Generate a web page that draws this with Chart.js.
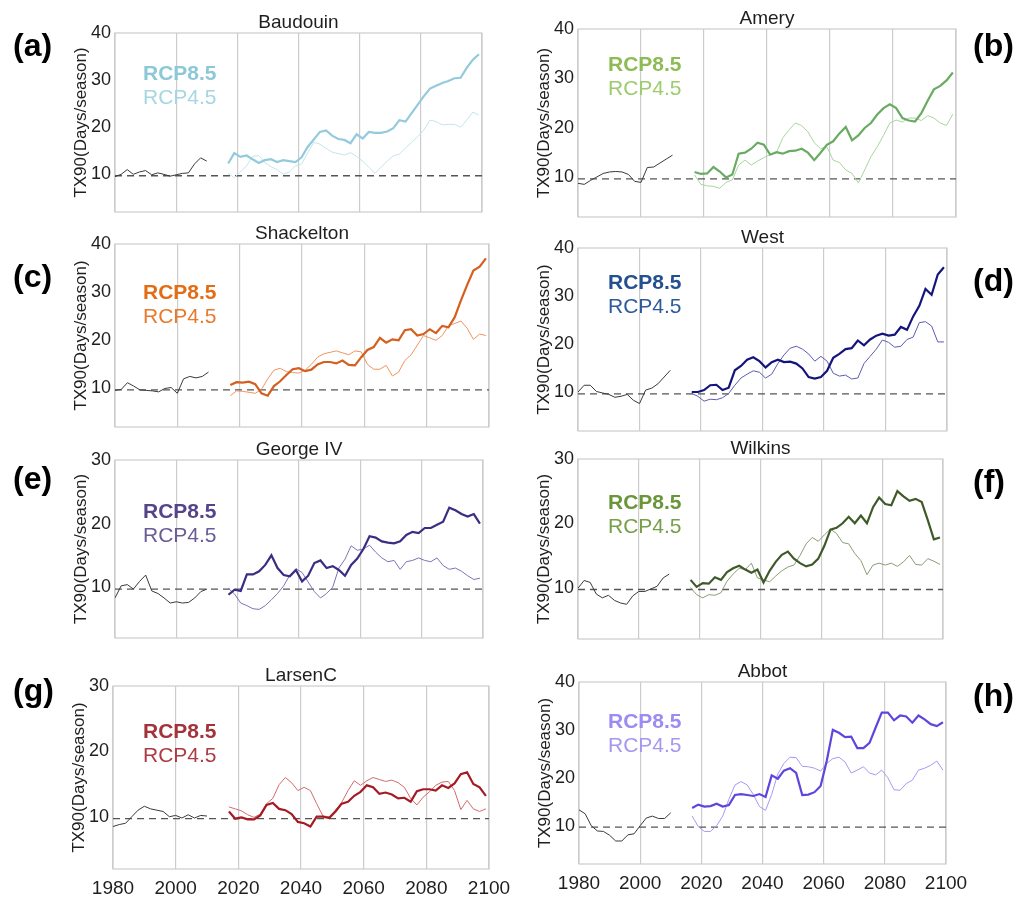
<!DOCTYPE html>
<html>
<head>
<meta charset="utf-8">
<title>TX90 ice shelves</title>
<script src="https://cdn.jsdelivr.net/npm/chart.js@4.4.1/dist/chart.umd.min.js"></script>
<style>
  html, body { margin: 0; padding: 0; background: #fff; }
  body { width: 1031px; height: 905px; position: relative; overflow: hidden; }
  canvas { position: absolute; }
</style>
</head>
<body>
<canvas id="pa"></canvas>
<canvas id="pc"></canvas>
<canvas id="pe"></canvas>
<canvas id="pg"></canvas>
<canvas id="pb"></canvas>
<canvas id="pd"></canvas>
<canvas id="pf"></canvas>
<canvas id="ph"></canvas>
<script>
// ===== DATOS =====
const histYears = [1980, 1982, 1984, 1986, 1988, 1990, 1992, 1994, 1996, 1998, 2000, 2002, 2004, 2006, 2008, 2010];
const rcpYears = [2017, 2019, 2021, 2023, 2025, 2027, 2029, 2031, 2033, 2035, 2037, 2039, 2041, 2043,
                  2045, 2047, 2049, 2051, 2053, 2055, 2057, 2059, 2061, 2063, 2065, 2067, 2069, 2071,
                  2073, 2075, 2077, 2079, 2081, 2083, 2085, 2087, 2089, 2091, 2093, 2095, 2097, 2099];
const xTicks = [1980, 2000, 2020, 2040, 2060, 2080, 2100];
const yTicks40 = [10, 20, 30, 40];
const yTicks30 = [10, 20, 30];
const scenarioNames = ['RCP8.5', 'RCP4.5'];
const regionNames = ['Baudouin', 'Amery', 'Shackelton', 'West', 'George IV', 'Wilkins', 'LarsenC', 'Abbot'];
const panelLetters = ['(a)', '(b)', '(c)', '(d)', '(e)', '(f)', '(g)', '(h)'];
const baselineValues = [9.7, 9.7, 9.7, 9.7, 9.7, 9.7, 9.7, 9.7];

const baudouinHist = [9.5, 10.0, 11.0, 10.0, 10.5, 10.8, 9.9, 10.3, 10.0, 9.6, 9.9, 10.2, 10.3, 12.2, 13.5, 12.8];
const baudouinRcp85 = [12.3, 14.5, 13.7, 14.0, 13.2, 12.4, 13.0, 13.2, 12.6, 13.0, 12.8, 12.6, 13.6, 15.8, 17.4, 19.0, 19.3, 18.2, 17.5, 17.3, 16.6,
                       18.5, 17.6, 19.0, 18.8, 18.8, 19.1, 19.8, 21.5, 21.2, 23.0, 24.8, 26.6, 28.2, 28.8, 29.4, 29.8, 30.4, 30.5, 32.6, 34.3, 35.5];
const baudouinRcp45 = [10.2, 9.3, 10.5, 11.8, 13.8, 14.0, 12.5, 11.6, 11.0, 10.0, 10.5, 11.8, 12.2, 14.5, 16.8, 16.4, 15.5, 14.7, 14.4, 14.1, 14.6,
                       13.8, 12.8, 11.5, 10.2, 11.5, 12.8, 13.9, 14.3, 15.6, 16.8, 18.0, 19.4, 21.5, 21.2, 20.5, 20.6, 20.6, 20.0, 21.5, 23.2, 22.6];

const ameryHist = [8.8, 8.6, 9.4, 10.1, 10.8, 11.1, 11.2, 11.1, 10.6, 9.2, 9.0, 12.0, 12.1, 12.9, 13.7, 14.5];
const ameryRcp85 = [11.1, 10.7, 10.8, 12.1, 11.2, 10.0, 10.6, 14.8, 15.0, 15.8, 17.0, 16.6, 14.6, 15.1, 14.8, 15.3, 15.4, 15.8, 15.0, 13.5, 15.0,
                    16.6, 17.3, 18.9, 20.2, 17.5, 18.5, 20.0, 21.0, 22.7, 24.0, 24.8, 24.0, 22.0, 21.5, 21.3, 23.0, 25.5, 27.8, 28.5, 29.6, 31.2];
const ameryRcp45 = [10.5, 8.6, 8.3, 8.2, 7.8, 9.0, 9.5, 12.5, 13.5, 12.5, 13.3, 14.0, 14.6, 15.0, 18.0, 19.6, 21.0, 20.5, 19.2, 17.0, 15.8,
                    16.2, 13.5, 13.0, 11.5, 10.8, 8.9, 11.5, 14.2, 16.2, 18.5, 21.0, 21.6, 21.2, 22.0, 22.0, 21.5, 22.5, 22.0, 21.0, 20.5, 22.8];

const shackHist = [9.6, 9.8, 11.2, 10.5, 9.7, 9.6, 9.5, 9.3, 10.0, 10.2, 9.0, 12.0, 12.5, 12.2, 12.5, 13.4];
const shackRcp85 = [10.7, 11.3, 11.2, 11.4, 10.9, 9.0, 8.5, 10.5, 11.5, 12.8, 14.0, 14.2, 13.6, 13.9, 15.0, 15.5, 15.5, 15.2, 15.8, 14.9, 14.8,
                    16.5, 18.0, 18.6, 20.5, 19.5, 20.2, 20.0, 22.1, 22.3, 21.0, 21.3, 22.3, 21.5, 23.0, 22.7, 24.8, 28.3, 31.5, 34.5, 35.3, 37.0];
const shackRcp45 = [8.5, 9.5, 9.4, 9.2, 9.0, 9.8, 12.0, 13.8, 14.2, 13.5, 13.3, 13.2, 13.8, 15.0, 16.5, 17.2, 17.5, 17.8, 17.4, 17.0, 17.8,
                    17.6, 15.0, 14.0, 14.0, 14.8, 12.6, 13.4, 15.8, 17.0, 19.0, 21.0, 20.5, 20.0, 21.0, 23.0, 23.5, 24.0, 22.5, 20.2, 21.3, 21.0];

const westHist = [10.1, 11.5, 11.5, 10.2, 9.9, 9.6, 9.0, 9.2, 9.6, 8.4, 7.7, 10.5, 10.9, 11.8, 13.2, 14.6];
const westRcp85 = [10.1, 10.1, 10.5, 11.5, 11.6, 10.5, 11.0, 14.6, 15.5, 16.8, 17.3, 16.5, 15.2, 16.3, 16.8, 16.3, 16.4, 16.0, 15.0, 13.2, 12.9,
                   13.2, 14.5, 17.2, 18.0, 19.0, 19.2, 20.8, 19.8, 21.0, 21.8, 22.2, 21.8, 22.0, 23.6, 23.0, 25.8, 28.0, 31.5, 30.3, 34.5, 36.0];
const westRcp45 = [9.8, 9.2, 8.2, 8.6, 8.5, 8.9, 9.8, 11.5, 13.0, 13.8, 14.5, 14.2, 13.0, 13.8, 16.0, 17.8, 19.2, 19.6, 19.0, 18.0, 16.5,
                   17.5, 16.5, 14.0, 13.4, 13.6, 12.8, 13.0, 16.0, 17.5, 19.0, 20.9, 20.4, 19.4, 19.6, 21.0, 21.5, 24.5, 24.7, 23.8, 20.5, 20.5];

const georgeHist = [8.3, 10.2, 10.4, 9.7, 10.9, 11.9, 9.4, 9.0, 8.3, 7.5, 7.7, 7.5, 7.6, 8.3, 9.3, 9.7];
const georgeRcp85 = [8.8, 9.6, 9.4, 12.0, 12.0, 12.5, 13.5, 15.0, 13.0, 11.9, 11.7, 12.7, 10.9, 11.8, 13.8, 14.2, 13.0, 13.3, 12.7, 11.8, 13.5,
                     14.5, 16.0, 18.0, 17.8, 17.2, 17.0, 16.9, 17.2, 18.2, 18.7, 18.5, 19.3, 19.3, 19.8, 20.3, 22.5, 22.1, 21.5, 21.1, 21.5, 20.0];
const georgeRcp45 = [9.8, 8.9, 7.5, 7.1, 6.6, 6.5, 7.1, 8.0, 9.0, 10.2, 11.9, 12.9, 12.3, 10.8, 9.3, 8.3, 9.0, 10.0, 13.0, 14.4, 16.5,
                     15.8, 16.0, 16.6, 15.5, 14.6, 14.0, 14.2, 12.8, 14.0, 14.2, 14.6, 14.2, 14.0, 14.6, 13.4, 12.8, 13.0, 12.5, 11.8, 11.2, 11.4];

const wilkinsHist = [9.9, 11.1, 10.8, 9.0, 8.4, 8.8, 8.0, 7.6, 7.4, 8.7, 9.4, 9.4, 9.8, 10.2, 11.5, 12.1];
const wilkinsRcp85 = [11.2, 10.1, 10.7, 10.6, 11.6, 11.2, 12.4, 13.0, 13.4, 12.8, 12.3, 12.8, 10.8, 12.6, 14.0, 15.1, 15.6, 14.5, 13.8, 13.3, 13.6,
                      14.5, 16.5, 19.0, 19.3, 20.0, 21.0, 20.0, 21.2, 20.0, 22.5, 24.0, 23.0, 22.8, 25.0, 24.2, 23.5, 23.8, 23.3, 20.5, 17.5, 17.8];
const wilkinsRcp45 = [10.0, 8.9, 8.4, 8.9, 8.8, 9.2, 11.0, 12.1, 13.0, 12.8, 13.8, 11.5, 11.2, 10.9, 11.8, 12.6, 13.2, 13.5, 15.0, 16.8, 17.8,
                      17.2, 18.2, 19.1, 18.4, 17.0, 16.8, 15.3, 14.2, 12.0, 13.5, 13.8, 13.5, 13.8, 13.3, 14.0, 15.0, 13.6, 13.5, 14.5, 14.1, 13.6];

const larsenHist = [8.5, 8.8, 9.0, 10.0, 11.0, 11.6, 11.2, 11.0, 10.8, 10.0, 10.2, 9.8, 10.3, 9.8, 10.2, 10.1];
const larsenRcp85 = [10.8, 9.7, 9.9, 9.6, 9.6, 10.2, 11.8, 12.1, 11.2, 11.0, 10.4, 9.2, 9.0, 8.5, 10.0, 10.0, 9.8, 10.8, 12.0, 12.3, 13.2,
                     13.8, 14.8, 14.5, 13.5, 13.7, 13.4, 12.8, 12.9, 12.3, 13.9, 14.2, 14.2, 14.0, 14.8, 14.4, 15.1, 16.5, 16.8, 15.0, 14.5, 13.2];
const larsenRcp45 = [11.5, 11.2, 10.9, 10.3, 9.9, 10.4, 12.0, 12.8, 14.9, 16.0, 15.2, 14.0, 14.5, 14.0, 12.0, 10.1, 10.0, 11.0, 12.2, 14.0, 15.5,
                     14.8, 15.5, 16.0, 15.7, 15.4, 15.6, 15.2, 14.5, 12.8, 11.8, 13.0, 13.8, 14.8, 15.3, 15.4, 14.0, 11.1, 12.5, 11.2, 10.8, 11.2];

const abbotHist = [13.3, 12.5, 10.0, 8.9, 8.8, 8.0, 6.8, 6.8, 8.1, 8.3, 10.0, 11.6, 12.0, 11.5, 11.5, 12.7];
const abbotRcp85 = [13.7, 14.4, 14.0, 14.1, 14.6, 14.0, 14.3, 16.4, 16.6, 16.4, 16.2, 16.6, 16.0, 20.5, 19.8, 21.5, 22.0, 21.0, 16.4, 16.5, 17.0,
                    18.3, 23.5, 30.0, 29.4, 28.5, 28.6, 26.2, 26.2, 27.3, 30.5, 33.6, 33.6, 32.0, 33.0, 32.8, 31.5, 33.0, 32.2, 31.2, 30.8, 31.6];
const abbotRcp45 = [12.0, 9.8, 8.8, 8.8, 10.0, 12.0, 15.5, 18.5, 19.2, 18.5, 16.5, 14.0, 13.2, 16.5, 20.8, 23.0, 24.3, 24.2, 22.4, 22.3, 22.0,
                    21.4, 23.0, 24.0, 24.3, 23.3, 21.0, 21.6, 22.3, 21.0, 20.6, 21.6, 20.0, 17.5, 17.4, 18.8, 19.5, 21.6, 22.0, 22.6, 23.5, 21.6];

// ===== ESTILO =====
const FONT = '"Liberation Sans", Arial, Helvetica, sans-serif';
const TEXT = '#1e1e1e';
const GRID = '#cccccc';

// Paneles: caja del área de trazado (px de página), colores y ubicación de textos
const panels = [
  { id: 'pa', k: 0, hist: baudouinHist, r85: baudouinRcp85, r45: baudouinRcp45, yMax: 40, yTicks: yTicks40,
    box: { l: 115, t: 33, r: 482, b: 212 }, col: 0, lab: { x: 28, y: 41 }, letterY: 47,
    c85: '#93cbdc', c45: '#c4e4ed', t85: '#8cc8d8', t45: '#a6d6e2', bottom: false },
  { id: 'pb', k: 1, hist: ameryHist, r85: ameryRcp85, r45: ameryRcp45, yMax: 40, yTicks: yTicks40,
    box: { l: 578, t: 29, r: 956, b: 217 }, col: 1, lab: { x: 30, y: 36 }, letterY: 47,
    c85: '#6aab63', c45: '#a9d59d', t85: '#8dbc55', t45: '#9dcc6e', bottom: false },
  { id: 'pc', k: 2, hist: shackHist, r85: shackRcp85, r45: shackRcp45, yMax: 40, yTicks: yTicks40,
    box: { l: 115, t: 244, r: 489, b: 427 }, col: 0, lab: { x: 28, y: 49 }, letterY: 278,
    c85: '#d45f1e', c45: '#f09460', t85: '#e36c14', t45: '#e97a2c', bottom: false },
  { id: 'pd', k: 3, hist: westHist, r85: westRcp85, r45: westRcp45, yMax: 40, yTicks: yTicks40,
    box: { l: 578, t: 248, r: 947, b: 431 }, col: 1, lab: { x: 30, y: 35 }, letterY: 282,
    c85: '#14147e', c45: '#5b5bb2', t85: '#24508f', t45: '#2e5a9c', bottom: false },
  { id: 'pe', k: 4, hist: georgeHist, r85: georgeRcp85, r45: georgeRcp45, yMax: 30, yTicks: yTicks30,
    box: { l: 115, t: 460, r: 483, b: 638 }, col: 0, lab: { x: 28, y: 52 }, letterY: 480,
    c85: '#3a2d82', c45: '#7c74b4', t85: '#55448a', t45: '#6a5c96', bottom: false },
  { id: 'pf', k: 5, hist: wilkinsHist, r85: wilkinsRcp85, r45: wilkinsRcp45, yMax: 30, yTicks: yTicks30,
    box: { l: 578, t: 459, r: 943, b: 639 }, col: 1, lab: { x: 30, y: 44 }, letterY: 483,
    c85: '#3f5a28', c45: '#8a9c74', t85: '#6a963a', t45: '#76a048', bottom: false },
  { id: 'pg', k: 6, hist: larsenHist, r85: larsenRcp85, r45: larsenRcp45, yMax: 30, yTicks: yTicks30,
    box: { l: 113, t: 686, r: 489, b: 869 }, col: 0, lab: { x: 30, y: 46 }, letterY: 692,
    c85: '#a51b24', c45: '#d46a6a', t85: '#a33338', t45: '#ad3c42', bottom: true },
  { id: 'ph', k: 7, hist: abbotHist, r85: abbotRcp85, r45: abbotRcp45, yMax: 40, yTicks: yTicks40,
    box: { l: 579, t: 682, r: 946, b: 864 }, col: 1, lab: { x: 29, y: 40 }, letterY: 697,
    c85: '#5f45de', c45: '#a898f2', t85: '#9a8cf2', t45: '#a598f0', bottom: true }
];

const COLS = [{ x: 0, w: 530, letterX: 13 }, { x: 500, w: 531, letterX: 973 }];
const Y_AXIS_W = 44;
const TOP_PAD = 34;

function toPoints(xs, ys) {
  return xs.map((x, i) => ({ x: x, y: ys[i] }));
}

// Marco, título, etiquetas de escenario y letra del panel
const panelDecor = {
  id: 'panelDecor',
  beforeDatasetsDraw(chart, args, o) {
    const a = chart.chartArea;
    const ctx = chart.ctx;
    ctx.save();
    ctx.strokeStyle = GRID;
    ctx.lineWidth = 1.2;
    ctx.strokeRect(a.left, a.top, a.right - a.left, a.bottom - a.top);
    ctx.restore();
  },
  afterDraw(chart, args, o) {
    const a = chart.chartArea;
    const ctx = chart.ctx;
    ctx.save();
    ctx.fillStyle = TEXT;
    ctx.font = '19px ' + FONT;
    ctx.textAlign = 'center';
    ctx.textBaseline = 'alphabetic';
    ctx.fillText(o.title, (a.left + a.right) / 2, a.top - 5);

    ctx.textAlign = 'left';
    ctx.textBaseline = 'middle';
    ctx.font = 'bold 21px ' + FONT;
    ctx.fillStyle = o.t85;
    ctx.fillText(scenarioNames[0], a.left + o.lab.x, a.top + o.lab.y);
    ctx.font = '21px ' + FONT;
    ctx.fillStyle = o.t45;
    ctx.fillText(scenarioNames[1], a.left + o.lab.x, a.top + o.lab.y + 24);

    ctx.font = 'bold 32px ' + FONT;
    ctx.fillStyle = '#000';
    ctx.fillText(o.letter, o.letterX, o.letterY);
    ctx.restore();
  }
};

function buildPanel(p) {
  const cv = document.getElementById(p.id);
  const col = COLS[p.col];
  const top = p.box.t - TOP_PAD;
  const xAxisH = p.bottom ? 34 : 0;
  const padBottom = p.bottom ? 4 : 18;
  const height = (p.box.b - top) + xAxisH + padBottom;
  cv.width = col.w;
  cv.height = height;
  cv.style.left = col.x + 'px';
  cv.style.top = top + 'px';
  cv.style.width = col.w + 'px';
  cv.style.height = height + 'px';

  const base = baselineValues[p.k];

  new Chart(cv, {
    type: 'line',
    data: {
      datasets: [
        { label: scenarioNames[0], data: toPoints(rcpYears, p.r85), borderColor: p.c85, borderWidth: 2.2 },
        { label: scenarioNames[1], data: toPoints(rcpYears, p.r45), borderColor: p.c45, borderWidth: 1 },
        { label: 'Histórico', data: toPoints(histYears, p.hist), borderColor: '#3a3a3a', borderWidth: 1 },
        { label: 'Referencia', data: [{ x: xTicks[0], y: base }, { x: xTicks[xTicks.length - 1], y: base }],
          borderColor: '#555555', borderWidth: 1.3, borderDash: [7, 5] }
      ]
    },
    options: {
      responsive: false,
      animation: false,
      events: [],
      elements: { point: { radius: 0 }, line: { tension: 0, fill: false } },
      layout: {
        padding: {
          left: p.box.l - col.x - Y_AXIS_W,
          right: col.x + col.w - p.box.r,
          top: TOP_PAD,
          bottom: padBottom
        }
      },
      plugins: {
        legend: { display: false },
        tooltip: { enabled: false },
        panelDecor: {
          title: regionNames[p.k],
          letter: panelLetters[p.k],
          letterX: col.letterX - col.x,
          letterY: p.letterY - top,
          lab: p.lab, t85: p.t85, t45: p.t45
        }
      },
      scales: {
        x: {
          type: 'linear',
          min: xTicks[0],
          max: xTicks[xTicks.length - 1],
          afterBuildTicks: s => { s.ticks = xTicks.map(v => ({ value: v })); },
          afterFit: s => { s.height = xAxisH; },
          ticks: {
            display: p.bottom,
            font: { family: FONT, size: 19 },
            color: TEXT,
            padding: 8,
            maxRotation: 0,
            autoSkip: false,
            callback: v => String(v)
          },
          grid: { color: GRID, lineWidth: 1.2, drawTicks: false },
          border: { display: false }
        },
        y: {
          min: 2,
          max: p.yMax,
          afterBuildTicks: s => { s.ticks = p.yTicks.map(v => ({ value: v })); },
          afterFit: s => { s.width = Y_AXIS_W; },
          ticks: {
            font: { family: FONT, size: 18 },
            color: TEXT,
            padding: 4,
            callback: v => String(v)
          },
          grid: { display: false, drawTicks: false },
          border: { display: false },
          title: {
            display: true,
            text: 'TX90(Days/season)',
            font: { family: FONT, size: 17 },
            color: TEXT,
            padding: 0
          }
        }
      }
    },
    plugins: [panelDecor]
  });
}

panels.forEach(buildPanel);
</script>
</body>
</html>
